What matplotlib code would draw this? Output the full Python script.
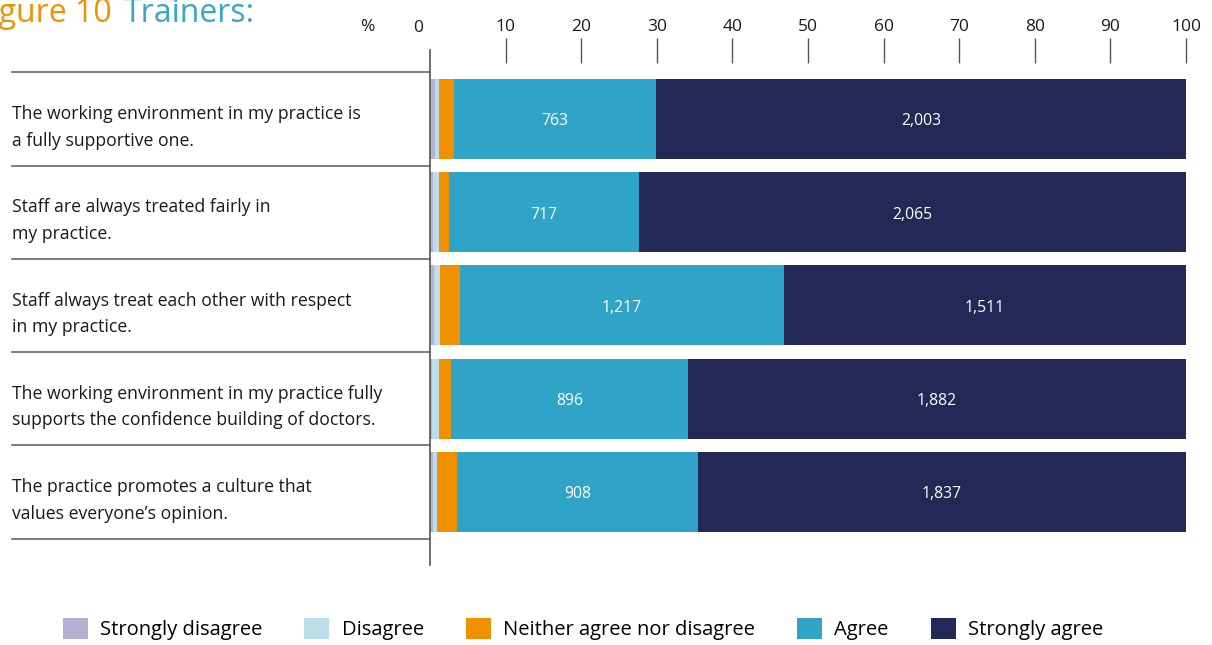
import matplotlib
matplotlib.use('Agg')
import matplotlib.pyplot as plt
from matplotlib.patches import Patch
from matplotlib.transforms import blended_transform_factory
import numpy as np

plt.rcParams['font.family'] = ['Open Sans', 'DejaVu Sans']

categories = [
    "The working environment in my practice is\na fully supportive one.",
    "Staff are always treated fairly in\nmy practice.",
    "Staff always treat each other with respect\nin my practice.",
    "The working environment in my practice fully\nsupports the confidence building of doctors.",
    "The practice promotes a culture that\nvalues everyone\u2019s opinion.",
]
series_names = ["Strongly disagree", "Disagree", "Neither agree nor disagree", "Agree", "Strongly agree"]
strongly_disagree = [18, 11, 14, 9, 11]
disagree = [17, 23, 23, 26, 15]
neither = [56, 38, 75, 45, 75]
agree = [763, 717, 1217, 896, 908]
strongly_agree = [2003, 2065, 1511, 1882, 1837]
labelled_series = [3, 4]
xticks = [10, 20, 30, 40, 50, 60, 70, 80, 90, 100]
colors = ['#b4b1d5', '#bcdde9', '#f29100', '#2fa4c6', '#232856']

W, H = 1212, 645
fig = plt.figure(figsize=(W / 100, H / 100), dpi=100)
ax = fig.add_axes([430 / W, 1 - 565 / H, (1186 - 430) / W, (565 - 50) / H])

counts = np.array([strongly_disagree, disagree, neither, agree, strongly_agree], dtype=float)
totals = counts.sum(axis=0)
pcts = counts / totals * 100
y = np.arange(len(categories))
left = np.zeros(len(categories))
for k, name in enumerate(series_names):
    ax.barh(y, pcts[k], left=left, height=0.858, color=colors[k], linewidth=0)
    if k in labelled_series:
        for i in range(len(categories)):
            ax.text(left[i] + pcts[k][i] / 2, y[i] + 0.025, f"{int(counts[k][i]):,}",
                    ha='center', va='center', color='white', fontsize=11.3)
    left += pcts[k]

ax.set_xlim(0, 100)
ax.set_ylim(4.783, -0.740)
ax.set_yticks([])
ax.xaxis.tick_top()
ax.set_xticks(xticks)
ax.tick_params(axis='x', direction='inout', length=18, width=1, color='#555555',
               pad=2, labelsize=12.5, labelcolor='#1a1a1a')
for s in ['top', 'right', 'bottom']:
    ax.spines[s].set_visible(False)
ax.spines['left'].set_color('#555555')
ax.spines['left'].set_linewidth(1.2)

fig.text(418 / W, 1 - 28 / H, "0", ha='center', va='center', fontsize=12.5, color='#1a1a1a')
fig.text(367 / W, 1 - 27 / H, "%", ha='center', va='center', fontsize=12.5, color='#1a1a1a')

trans = blended_transform_factory(fig.transFigure, ax.transData)
for yy in np.arange(-0.5, len(categories)):
    ax.plot([12 / W, 430 / W], [yy, yy], transform=trans, color='#666666', lw=1.2, clip_on=False)
for i, cat in enumerate(categories):
    ax.text(12 / W, y[i] + 0.09, cat, transform=trans, ha='left', va='center', fontsize=12.7,
            linespacing=1.6, color='#1a1a1a')

fig.text(112 / W, 1 - 22 / H, "Figure 10", ha='right', va='baseline', fontsize=23,
         color='#f29100')
fig.text(124 / W, 1 - 22 / H, "Trainers:", ha='left', va='baseline', fontsize=23,
         color='#35a8c8')

handles = [Patch(facecolor=c, edgecolor='none') for c in colors]
fig.legend(handles, series_names, loc='center', bbox_to_anchor=(583 / W, 1 - 629 / H), ncol=5,
           frameon=False, fontsize=14.5, handlelength=1.24, handleheight=1.24,
           handletextpad=0.6, columnspacing=2.1)

fig.savefig('out.png', dpi=100)
